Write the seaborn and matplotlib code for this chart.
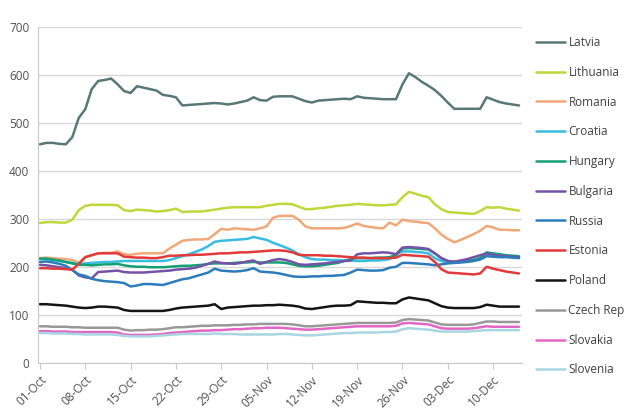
import pandas as pd
import seaborn as sns
import matplotlib.pyplot as plt
import matplotlib.dates as mdates

# daily values, 01-Oct .. 14-Dec
dates = pd.date_range("2008-10-01", periods=75, freq="D")

latvia = [455, 458, 458, 456, 455, 470, 510, 528, 570, 587, 589, 592, 580, 566, 562,
          576, 573, 570, 567, 558, 556, 553, 536, 537, 538, 539, 540, 541, 540, 538,
          540, 543, 546, 553, 547, 546, 554, 555, 555, 555, 550, 545, 542, 546, 547,
          548, 549, 550, 549, 555, 552, 551, 550, 549, 549, 549, 580, 603, 595, 585,
          577, 568, 556, 542, 529, 529, 529, 529, 529, 553, 548, 543, 540, 538, 536]
lithuania = [291, 293, 293, 292, 292, 298, 318, 327, 329, 329, 329, 329, 328, 318, 316,
             319, 318, 317, 315, 316, 318, 321, 314, 315, 315, 315, 317, 319, 321, 323,
             324, 324, 324, 324, 324, 327, 329, 331, 331, 330, 325, 320, 320, 322, 323,
             325, 327, 328, 329, 331, 330, 329, 328, 328, 329, 330, 345, 356, 352, 348,
             345, 330, 320, 314, 313, 312, 311, 310, 316, 324, 323, 324, 321, 319, 317]
romania = [218, 219, 218, 217, 216, 214, 208, 220, 224, 228, 229, 229, 232, 226, 225,
           227, 228, 228, 228, 228, 238, 246, 254, 256, 257, 257, 258, 268, 279, 277,
           280, 279, 278, 277, 280, 284, 302, 306, 306, 306, 298, 284, 280, 280, 280,
           280, 280, 281, 285, 290, 285, 283, 281, 280, 292, 286, 298, 295, 294, 292,
           291, 280, 267, 258, 251, 256, 262, 268, 275, 285, 282, 277, 277, 276, 276]
croatia = [216, 216, 214, 212, 210, 208, 206, 207, 208, 209, 210, 210, 211, 212, 212,
           212, 212, 212, 212, 212, 214, 218, 222, 226, 231, 236, 243, 252, 254, 255,
           256, 257, 258, 262, 259, 256, 250, 245, 240, 234, 226, 220, 216, 215, 215,
           214, 214, 213, 213, 212, 212, 213, 213, 214, 216, 226, 232, 232, 231, 230,
           228, 218, 212, 209, 209, 210, 212, 214, 218, 224, 222, 222, 221, 221, 220]
hungary = [217, 217, 215, 213, 210, 207, 204, 204, 203, 204, 205, 205, 206, 203, 201,
           200, 200, 199, 199, 199, 200, 201, 202, 202, 203, 204, 206, 207, 207, 207,
           208, 209, 209, 210, 209, 209, 209, 209, 208, 205, 202, 201, 201, 202, 204,
           206, 208, 212, 216, 218, 218, 218, 219, 219, 220, 224, 238, 239, 238, 237,
           236, 228, 218, 212, 209, 210, 212, 214, 218, 230, 228, 226, 224, 223, 222]
bulgaria = [204, 203, 201, 199, 197, 194, 182, 178, 176, 189, 190, 191, 192, 189, 188,
            188, 188, 189, 190, 191, 192, 194, 195, 196, 198, 202, 206, 211, 208, 207,
            206, 208, 211, 213, 206, 210, 214, 216, 214, 210, 205, 204, 205, 206, 207,
            209, 210, 212, 213, 226, 228, 228, 229, 230, 229, 226, 240, 241, 240, 239,
            237, 228, 218, 212, 211, 213, 216, 220, 224, 228, 225, 223, 222, 221, 220]
russia = [210, 211, 209, 206, 202, 193, 184, 181, 175, 172, 170, 169, 168, 166, 159,
          161, 164, 164, 163, 162, 166, 170, 174, 176, 180, 184, 188, 196, 192, 191,
          190, 191, 193, 197, 190, 189, 188, 186, 183, 180, 179, 179, 180, 180, 181,
          181, 182, 183, 188, 194, 193, 192, 192, 193, 198, 200, 208, 208, 207, 206,
          205, 203, 205, 207, 208, 209, 210, 212, 215, 222, 221, 220, 220, 219, 218]
estonia = [197, 197, 196, 196, 195, 194, 206, 220, 224, 228, 228, 228, 228, 221, 220,
           219, 219, 218, 218, 220, 223, 223, 224, 224, 225, 225, 226, 227, 228, 228,
           229, 230, 230, 231, 232, 233, 234, 234, 233, 230, 225, 224, 224, 224, 223,
           223, 222, 221, 220, 219, 219, 218, 218, 218, 218, 219, 225, 224, 223, 222,
           221, 210, 195, 188, 187, 186, 185, 184, 186, 200, 196, 193, 190, 188, 186]
poland = [122, 122, 121, 120, 119, 117, 115, 114, 115, 117, 117, 116, 115, 110, 108,
          108, 108, 108, 108, 108, 110, 113, 115, 116, 117, 118, 119, 122, 112, 115,
          116, 117, 118, 119, 119, 120, 120, 121, 120, 119, 117, 113, 112, 114, 116,
          118, 119, 119, 120, 128, 127, 126, 125, 125, 124, 124, 132, 136, 134, 132,
          130, 124, 118, 115, 114, 114, 114, 114, 116, 121, 119, 117, 117, 117, 117]
czech = [76, 76, 75, 75, 75, 74, 74, 73, 73, 73, 73, 73, 73, 69, 67,
         68, 68, 69, 69, 70, 72, 74, 74, 75, 76, 77, 77, 78, 78, 78,
         79, 79, 80, 80, 81, 81, 81, 81, 81, 80, 78, 76, 76, 77, 78,
         79, 80, 81, 82, 83, 83, 83, 83, 83, 83, 84, 89, 91, 90, 89,
         88, 84, 80, 79, 79, 79, 79, 80, 83, 86, 86, 85, 85, 85, 85]
slovakia = [66, 66, 65, 65, 65, 64, 64, 64, 64, 64, 64, 64, 63, 59, 58,
            58, 58, 58, 59, 60, 62, 63, 64, 65, 66, 67, 67, 68, 68, 69,
            70, 70, 71, 72, 72, 73, 73, 73, 72, 71, 70, 69, 69, 70, 71,
            72, 73, 74, 75, 76, 76, 76, 76, 76, 76, 77, 82, 83, 82, 81,
            80, 76, 72, 71, 71, 71, 71, 72, 74, 76, 75, 75, 75, 75, 75]
slovenia = [62, 62, 61, 61, 61, 60, 60, 59, 59, 59, 59, 59, 58, 56, 55,
            55, 55, 55, 56, 57, 58, 59, 60, 60, 60, 60, 60, 61, 60, 60,
            60, 59, 59, 59, 59, 59, 59, 60, 60, 59, 58, 57, 57, 58, 59,
            60, 61, 62, 62, 63, 63, 63, 63, 64, 64, 65, 70, 72, 71, 70,
            69, 67, 65, 65, 65, 65, 65, 66, 67, 68, 68, 68, 68, 68, 68]

countries = ["Latvia", "Lithuania", "Romania", "Croatia", "Hungary", "Bulgaria",
             "Russia", "Estonia", "Poland", "Czech Rep", "Slovakia", "Slovenia"]
series = [latvia, lithuania, romania, croatia, hungary, bulgaria,
          russia, estonia, poland, czech, slovakia, slovenia]
colors = ["#587878", "#bcd83a", "#f0a878", "#38bce0", "#14a074", "#7452a8",
          "#2c7cbc", "#e23a3a", "#141414", "#989898", "#e266c4", "#a8d6e2"]

df = pd.concat([pd.DataFrame({"date": dates, "value": v, "country": c})
                for c, v in zip(countries, series)], ignore_index=True)

sns.set_style("white")
plt.rcParams["font.family"] = ["Open Sans", "DejaVu Sans"]

fig = plt.figure(figsize=(6.4, 4.17), dpi=100)
ax = fig.add_axes([0.059, 0.13, 0.757, 0.806])

sns.lineplot(data=df, x="date", y="value", hue="country", hue_order=countries,
             palette=dict(zip(countries, colors)), linewidth=1.8, ax=ax, legend=False)

ax.set_ylim(0, 700)
ax.set_yticks(range(0, 701, 100))
ax.set_xlim(dates[0] - pd.Timedelta(hours=8), dates[-1] + pd.Timedelta(hours=12))
ax.xaxis.set_major_locator(mdates.DayLocator(bymonthday=None, interval=7))
ax.set_xticks(pd.date_range(dates[0], dates[-1], freq="7D"))
ax.xaxis.set_major_formatter(mdates.DateFormatter("%d-%b"))
ax.set_xlabel("")
ax.set_ylabel("")
ax.grid(axis="y", color="#d8d8d8", linewidth=1)
ax.grid(axis="x", visible=False)
for s in ["top", "right"]:
    ax.spines[s].set_visible(False)
for s in ["left", "bottom"]:
    ax.spines[s].set_color("#c8c8c8")
ax.tick_params(axis="y", length=4, color="#c8c8c8", labelsize=8.5, labelcolor="#505050", pad=2)
ax.tick_params(axis="x", length=4, color="#c8c8c8", labelsize=8.5, labelcolor="#505050",
               bottom=True, labelrotation=45)
for lbl in ax.get_xticklabels():
    lbl.set_ha("right")
    lbl.set_rotation_mode("anchor")

handles = [plt.Line2D([], [], color=c, linewidth=1.8) for c in colors]
leg = fig.legend(handles, countries, loc="upper left", bbox_to_anchor=(0.83, 0.925),
                 frameon=False, fontsize=8.5, labelspacing=1.42, handlelength=2.5,
                 handletextpad=0.25, borderaxespad=0)
for t in leg.get_texts():
    t.set_color("#404040")

fig.savefig("out.png", dpi=100)
